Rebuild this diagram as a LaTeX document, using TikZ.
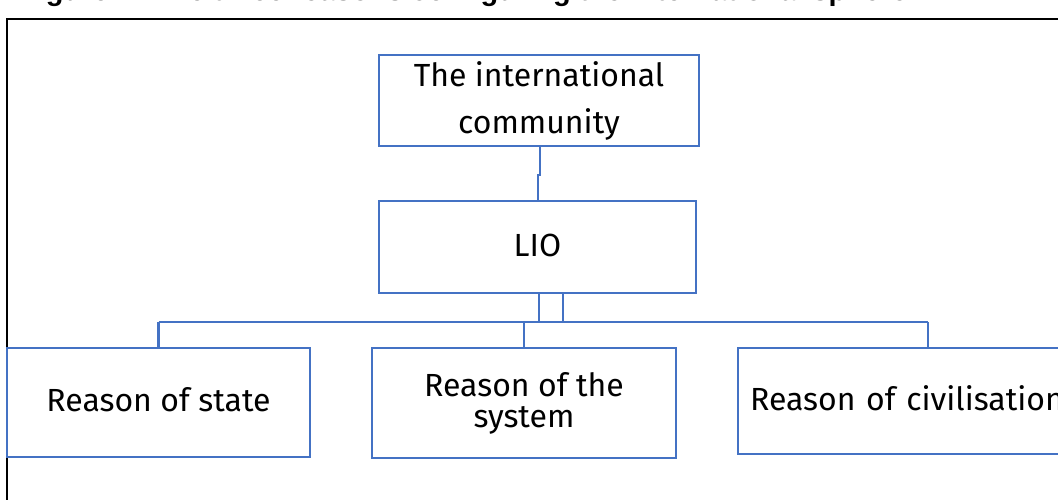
\documentclass[tikz,border=0pt]{standalone}
\usepackage{fontspec}
\setmainfont{Fira Sans}
\newfontfamily\titlefont{Liberation Sans}
\definecolor{blueline}{HTML}{4472C4}
\begin{document}
\begin{tikzpicture}[x=1pt,y=-1pt,
  box/.style={draw=blueline, line width=2.2pt, rectangle, inner sep=0pt, align=center,
    font=\fontsize{32}{47}\selectfont},
  onebox/.style={box, text height=23pt, text depth=5pt},
  conn/.style={draw=blueline, line width=2.2pt}]
\useasboundingbox (0,0) rectangle (1058,499);
\clip (0,0) rectangle (1058,499);
% cut-off caption
\node[anchor=base west, inner sep=0pt, font=\titlefont\bfseries\fontsize{29}{34}\selectfont] (title) at (20,0.5)
  {Figure 1: The three reasons configuring the international sphere};
% outer frame
\coordinate (fbl) at (7,520);
\coordinate (ftl) at (7,19);
\coordinate (ftr) at (1080,19);
\draw[black, line width=1.5pt] (fbl) -- (ftl) -- (ftr);
% boxes
\node[box, minimum width=320pt, minimum height=91pt] (ic) at (539,100.5)
  {The international\\community};
\node[onebox, minimum width=317pt, minimum height=92pt] (lio) at (537.5,247) {LIO};
\node[onebox, minimum width=303pt, minimum height=109pt] (rs) at (158.5,402.5) {Reason of state};
\node[box, font=\fontsize{32}{31}\selectfont, minimum width=304pt, minimum height=110pt] (rsys) at (524,403)
  {Reason of the\\system};
\node[onebox, anchor=west, text width=320pt, align=left, inner xsep=12pt, minimum height=106pt] (rc) at (737,401)
  {Reason of civilisation};
% connectors
\coordinate (j1) at (540,175);
\coordinate (j2) at (538,175);
\coordinate (bus) at (0,322);
\draw[conn] (ic.south -| j1) -- (j1) -- (j2) -- (lio.north -| j2);
\draw[conn] (lio.south -| 539,0) -- (bus -| 539,0);
\draw[conn] (lio.south -| 563,0) -- (bus -| 563,0);
\draw[conn] (bus -| rs.north) -- (bus -| 928,0);
\draw[conn] (bus -| rs.north) -- (rs.north);
\draw[conn] (bus -| rsys.north) -- (rsys.north);
\draw[conn] (bus -| 928,0) -- (rc.north -| 928,0);
\end{tikzpicture}
\end{document}
